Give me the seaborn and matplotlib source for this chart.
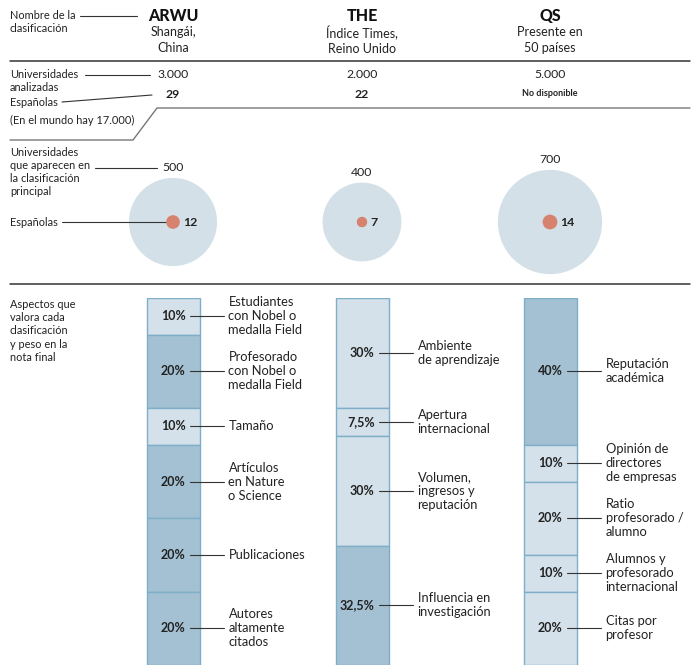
import numpy as np
import seaborn as sns
import matplotlib.pyplot as plt

# datos de cada clasificación
rankings = ['ARWU', 'THE', 'QS']
subtitulos = ['Shangái,\nChina', 'Índice Times,\nReino Unido', 'Presente en\n50 países']
analizadas = ['3.000', '2.000', '5.000']
espanolas_analizadas = ['29', '22', 'No disponible']
en_clasificacion = [500, 400, 700]
espanolas_clasificacion = [12, 7, 14]

# aspectos y pesos (en %)
arwu_pesos = [10, 20, 10, 20, 20, 20]
arwu_aspectos = ['Estudiantes\ncon Nobel o\nmedalla Field', 'Profesorado\ncon Nobel o\nmedalla Field',
                 'Tamaño', 'Artículos\nen Nature\no Science', 'Publicaciones',
                 'Autores\naltamente\ncitados']
arwu_oscuro = [False, True, False, True, True, True]

the_pesos = [30, 7.5, 30, 32.5]
the_aspectos = ['Ambiente\nde aprendizaje', 'Apertura\ninternacional',
                'Volumen,\ningresos y\nreputación', 'Influencia en\ninvestigación']
the_oscuro = [False, False, False, True]

qs_pesos = [40, 10, 20, 10, 20]
qs_aspectos = ['Reputación\nacadémica', 'Opinión de\ndirectores\nde empresas',
               'Ratio\nprofesorado /\nalumno', 'Alumnos y\nprofesorado\ninternacional',
               'Citas por\nprofesor']
qs_oscuro = [True, False, False, False, False]

pesos = [arwu_pesos, the_pesos, qs_pesos]
aspectos = [arwu_aspectos, the_aspectos, qs_aspectos]
oscuros = [arwu_oscuro, the_oscuro, qs_oscuro]

# estilo
sns.set_theme(style='white')
plt.rcParams['font.family'] = ['Lato', 'DejaVu Sans']

texto = '#222222'
linea = '#333333'
claro = '#d4e1ea'
oscuro = '#a3c1d3'
borde = '#7eaec8'
circulo = '#d3e0e8'
punto = '#d6826f'

cols = [173, 362, 550]  # centros de columna en píxeles
chico = 7.9  # tamaño de las notas de la izquierda
interl = 1.25

fig = plt.figure(figsize=(6.95, 6.68), dpi=100)
ax = fig.add_axes([0, 0, 1, 1])
ax.set_xlim(0, 695)
ax.set_ylim(668, 0)
ax.axis('off')

# cabecera
ax.text(10, 22, 'Nombre de la\nclasificación', fontsize=chico, color=texto, va='center', linespacing=interl)
ax.plot([80, 137], [16, 16], color=linea, lw=0.8)
for x, nombre, sub in zip(cols, rankings, subtitulos):
    ax.text(x, 16, nombre, fontsize=11.5, fontweight='black', color='#111111', ha='center', va='center')
    ax.text(x, 40, sub, fontsize=9, color=texto, ha='center', va='center', linespacing=1.3)

ax.plot([10, 690], [61, 61], color=linea, lw=1.1)

# universidades analizadas
ax.text(10, 81, 'Universidades\nanalizadas', fontsize=chico, color=texto, va='center', linespacing=interl)
ax.plot([85, 150], [75, 75], color=linea, lw=0.8)
ax.text(10, 102, 'Españolas', fontsize=chico, color=texto, va='center')
ax.plot([62, 152], [102, 95], color=linea, lw=0.8)
ax.text(10, 120, '(En el mundo hay 17.000)', fontsize=chico, color=texto, va='center')
for x, n, e in zip(cols, analizadas, espanolas_analizadas):
    ax.text(x, 75, n, fontsize=8.8, color=texto, ha='center', va='center')
    if e == 'No disponible':
        ax.text(x, 94, e, fontsize=6.5, fontweight='bold', color=texto, ha='center', va='center')
    else:
        ax.text(x, 94, e, fontsize=8.8, fontweight='bold', color=texto, ha='center', va='center')
ax.plot([10, 133, 157, 690], [140, 140, 108, 108], color='#777777', lw=1)

# círculos: área proporcional al número de universidades
escala = 8.05  # puntos^2 por universidad
cy = 222
sns.scatterplot(x=cols, y=[cy] * 3, s=escala * np.array(en_clasificacion),
                color=circulo, linewidth=0, ax=ax, zorder=2)
sns.scatterplot(x=cols, y=[cy] * 3, s=escala * np.array(espanolas_clasificacion),
                color=punto, linewidth=0, ax=ax, zorder=4)
for x, n, e in zip(cols, en_clasificacion, espanolas_clasificacion):
    r = 1.97 * np.sqrt(n)
    re = 1.97 * np.sqrt(e)
    ax.text(x, cy - r - 10, str(n), fontsize=8.8, color=texto, ha='center', va='center')
    ax.text(x + re + 3, cy + 1, str(e), fontsize=8.8, fontweight='bold', color=texto,
            ha='left', va='center', zorder=5)

ax.text(10, 172, 'Universidades\nque aparecen en\nla clasificación\nprincipal', fontsize=chico,
        color=texto, va='center', linespacing=interl)
ax.plot([95, 157], [168, 168], color=linea, lw=0.8)
ax.text(10, 222, 'Españolas', fontsize=chico, color=texto, va='center')
r12 = 1.97 * np.sqrt(espanolas_clasificacion[0])
ax.plot([62, cols[0] - r12], [222, 222], color=linea, lw=0.8, zorder=3)

ax.plot([10, 690], [284, 284], color=linea, lw=1.1)
ax.text(10, 331, 'Aspectos que\nvalora cada\nclasificación\ny peso en la\nnota final', fontsize=chico,
        color=texto, va='center', linespacing=interl)

# barras apiladas con los pesos
bax = fig.add_axes([0, 3 / 668, 1, 367 / 668])
bax.set_xlim(0, 695)
bax.set_ylim(100, 0)
bax.axis('off')
ancho = 53
for x, ps, asp, osc in zip(cols, pesos, aspectos, oscuros):
    base = np.concatenate([[0], np.cumsum(ps)[:-1]])
    colores = [oscuro if o else claro for o in osc]
    bax.bar(x, ps, bottom=base, width=ancho, color=colores, edgecolor=borde, linewidth=1)
    for p, b, a in zip(ps, base, asp):
        y = b + p / 2
        etiqueta = f'{p:g}'.replace('.', ',') + '%'
        bax.text(x + ancho / 2 - 14, y, etiqueta, fontsize=9, fontweight='bold', color=texto,
                 ha='right', va='center')
        bax.plot([x + ancho / 2 - 10, x + ancho / 2 + 24], [y, y], color=linea, lw=0.8)
        bax.text(x + ancho / 2 + 29, y, a, fontsize=9.3, color=texto, ha='left', va='center',
                 linespacing=1.2)

plt.savefig('out.png', dpi=100)
